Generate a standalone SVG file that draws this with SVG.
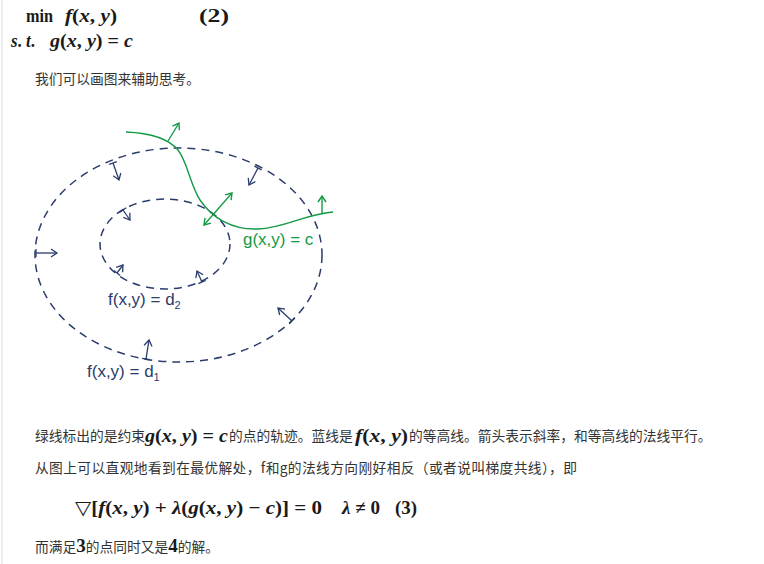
<svg xmlns="http://www.w3.org/2000/svg" width="764" height="564" viewBox="0 0 764 564">
<style>
.cn{font-family:"Noto Sans CJK SC","Noto Sans",sans-serif;font-size:13.75px;fill:#333}
.m{font-family:"Liberation Serif","DejaVu Serif",serif;font-weight:bold;font-size:19px;fill:#1a1a1a}
.i{font-style:italic}
.ell{fill:none;stroke:#2a3c6c;stroke-width:1.5;stroke-dasharray:8 6}
.ba{fill:none;stroke:#2a3c6c;stroke-width:1.3}
.ga{fill:none;stroke:#149a45;stroke-width:1.4}
.lbl{font-family:"Liberation Sans",Arial,sans-serif;font-size:17px}
</style>
<defs>
<marker id="bh" viewBox="-8 -5 10 10" markerWidth="10" markerHeight="10" refX="0" refY="0" orient="auto" markerUnits="userSpaceOnUse"><path d="M-6,-4 L0,0 L-6,4" fill="none" stroke="#2a3c6c" stroke-width="1.3"/></marker>
<marker id="bt" viewBox="-5 -5 10 10" markerWidth="10" markerHeight="10" refX="0" refY="0" orient="auto" markerUnits="userSpaceOnUse"><path d="M0,-4 L0,4" fill="none" stroke="#2a3c6c" stroke-width="1.3"/></marker>
<marker id="gh" viewBox="-8 -5 10 10" markerWidth="10" markerHeight="10" refX="0" refY="0" orient="auto-start-reverse" markerUnits="userSpaceOnUse"><path d="M-6,-4 L0,0 L-6,4" fill="none" stroke="#149a45" stroke-width="1.4"/></marker>
</defs>
<rect width="764" height="564" fill="#fff"/>
<line x1="2" y1="0" x2="2" y2="564" stroke="#e8e8e8" stroke-width="1.5"/>

<g id="problem">
<text class="m" x="26" y="22" textLength="27" lengthAdjust="spacingAndGlyphs">min</text>
<text class="m" x="65" y="22" textLength="52" lengthAdjust="spacingAndGlyphs"><tspan class="i">f</tspan>(<tspan class="i">x</tspan>, <tspan class="i">y</tspan>)</text>
<text class="m" x="199" y="22" textLength="30" lengthAdjust="spacingAndGlyphs">(2)</text>
<text class="m" x="11" y="47" textLength="24" lengthAdjust="spacingAndGlyphs"><tspan class="i">s</tspan>. <tspan class="i">t</tspan>.</text>
<text class="m" x="50" y="47" textLength="83" lengthAdjust="spacingAndGlyphs"><tspan class="i">g</tspan>(<tspan class="i">x</tspan>, <tspan class="i">y</tspan>) = <tspan class="i">c</tspan></text>
</g>
<text class="cn" x="35" y="84">我们可以画图来辅助思考。</text>

<g id="contour-outer">
<ellipse class="ell" cx="178.5" cy="255" rx="143.5" ry="107"/>
<text class="lbl" x="87" y="377" fill="#2a3c6c">f(x,y) = d<tspan font-size="11" dy="4">1</tspan></text>
</g>
<g id="contour-inner">
<ellipse class="ell" cx="165" cy="244" rx="65" ry="45"/>
<text class="lbl" x="108" y="305" fill="#2a3c6c">f(x,y) = d<tspan font-size="11" dy="4">2</tspan></text>
</g>
<g id="constraint">
<path class="ga" d="M126,132 C150,133 168,138 178,150 C188,163 190,185 200,200 C212,218 232,230 258,229 C285,228 305,214 333,212"/>
<text class="lbl" x="243" y="245" fill="#149a45">g(x,y) = c</text>
</g>

<g id="connectors">
<line class="ba" x1="113" y1="163" x2="119" y2="180" marker-start="url(#bt)" marker-end="url(#bh)"/>
<line class="ba" x1="258" y1="168" x2="249" y2="185" marker-start="url(#bt)" marker-end="url(#bh)"/>
<line class="ba" x1="123" y1="210" x2="130" y2="220" marker-start="url(#bt)" marker-end="url(#bh)"/>
<line class="ba" x1="36" y1="253" x2="57" y2="253" marker-start="url(#bt)" marker-end="url(#bh)"/>
<line class="ba" x1="117" y1="273" x2="123" y2="265" marker-start="url(#bt)" marker-end="url(#bh)"/>
<line class="ba" x1="202" y1="282" x2="197" y2="271" marker-start="url(#bt)" marker-end="url(#bh)"/>
<line class="ba" x1="292" y1="321" x2="278" y2="308" marker-start="url(#bt)" marker-end="url(#bh)"/>
<line class="ba" x1="146" y1="359" x2="149" y2="340" marker-start="url(#bt)" marker-end="url(#bh)"/>
<line class="ga" x1="168" y1="141" x2="179" y2="123" marker-end="url(#gh)"/>
<line class="ga" x1="204" y1="225" x2="232" y2="193" marker-start="url(#gh)" marker-end="url(#gh)"/>
<line class="ga" x1="322" y1="213" x2="322" y2="196" marker-end="url(#gh)"/>
</g>

<g id="text-body">
<text class="cn" x="35" y="441">绿线标出的是约束</text>
<text class="m" x="145" y="442" textLength="83" lengthAdjust="spacingAndGlyphs"><tspan class="i">g</tspan>(<tspan class="i">x</tspan>, <tspan class="i">y</tspan>) = <tspan class="i">c</tspan></text>
<text class="cn" x="229" y="441">的点的轨迹。蓝线是</text>
<text class="m" x="355" y="442" textLength="53" lengthAdjust="spacingAndGlyphs"><tspan class="i">f</tspan>(<tspan class="i">x</tspan>, <tspan class="i">y</tspan>)</text>
<text class="cn" x="409" y="441">的等高线。箭头表示斜率，和等高线的法线平行。</text>
<text class="cn" x="35" y="473" textLength="542" lengthAdjust="spacing">从图上可以直观地看到在最优解处，f和g的法线方向刚好相反（或者说叫梯度共线），即</text>
<text class="m" x="75" y="514" textLength="247" lengthAdjust="spacingAndGlyphs"><tspan font-weight="normal">▽</tspan>[<tspan class="i">f</tspan>(<tspan class="i">x</tspan>, <tspan class="i">y</tspan>) + <tspan class="i">λ</tspan>(<tspan class="i">g</tspan>(<tspan class="i">x</tspan>, <tspan class="i">y</tspan>) − <tspan class="i">c</tspan>)] = 0</text>
<text class="m" x="342" y="514" textLength="38" lengthAdjust="spacingAndGlyphs"><tspan class="i">λ</tspan> ≠ 0</text>
<text class="m" x="395" y="514" textLength="22" lengthAdjust="spacingAndGlyphs">(3)</text>
<text class="cn" y="552"><tspan x="35">而满足</tspan><tspan class="m" font-size="18">3</tspan>的点同时又是<tspan class="m" font-size="18">4</tspan>的解。</text>
</g>
</svg>
